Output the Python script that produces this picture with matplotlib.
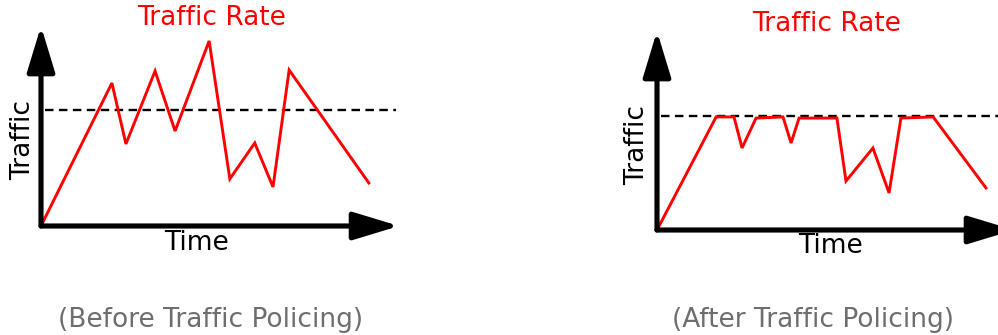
import matplotlib
matplotlib.use("Agg")
import matplotlib.pyplot as plt

# traffic rate samples (time 0-100, traffic 0-100)
before_time = [0, 20.2, 24.2, 32.5, 38.2, 47.9, 53.8, 60.9, 66.1, 70.7, 93.4]
before_rate = [0, 74.1, 42.5, 80.3, 49.2, 95.9, 24.4, 43.0, 20.2, 80.8, 22.3]
before_limit = 60.1

after_time = [0, 16.9, 22.0, 24.3, 28.3, 36.0, 38.3, 40.6, 51.4, 54.0, 61.7, 66.3, 69.7, 78.9, 94.0]
after_rate = [0, 58.9, 58.9, 42.7, 58.3, 58.9, 45.3, 58.3, 58.3, 25.5, 42.7, 19.3, 58.3, 58.9, 21.9]
after_limit = 59.4

captions = ["(Before Traffic Policing)", "(After Traffic Policing)"]

W, H = 998, 335
fig = plt.figure(figsize=(W / 100, H / 100), dpi=100)


def panel(box, t, v, limit, caption, title_xy, time_xy, traffic_xy, cap_xy):
    l, r, top, bot = box
    ax = fig.add_axes([l / W, (H - bot) / H, (r - l) / W, (bot - top) / H])
    ax.set_xlim(0, 100)
    ax.set_ylim(0, 100)
    ax.axis("off")

    # threshold
    ax.plot([1, 101], [limit, limit], color="black", lw=1.7, dashes=[3.6, 2.3],
            clip_on=False)
    # traffic rate
    ax.plot(t, v, color="#ff0000", lw=2.1, clip_on=False, solid_joinstyle="miter")

    # axes arrows (tips pushed out a bit, the arrow head gets shortened by its outline)
    style = "-|>,head_length=28,head_width=8.5"
    for tip in [(102, 0), (0, 103.6)]:
        ax.annotate("", xy=tip, xytext=(0, 0),
                    arrowprops=dict(arrowstyle=style, mutation_scale=1, lw=3.7,
                                    color="black", shrinkA=0, shrinkB=0),
                    annotation_clip=False)

    fs = 19
    fig.text(title_xy[0] / W, 1 - title_xy[1] / H, "Traffic Rate", color="#ff0000",
             fontsize=fs, ha="center", va="center")
    fig.text(time_xy[0] / W, 1 - time_xy[1] / H, "Time", color="black",
             fontsize=fs, ha="center", va="center")
    fig.text(traffic_xy[0] / W, 1 - traffic_xy[1] / H, "Traffic", color="black",
             fontsize=fs, ha="center", va="center", rotation=90)
    fig.text(cap_xy[0] / W, 1 - cap_xy[1] / H, caption, color="#6e6e6e",
             fontsize=fs, ha="center", va="center")


panel((41, 392, 33, 226), before_time, before_rate, before_limit, captions[0],
      (212, 18), (197, 243), (23, 140), (211, 320))
panel((657, 1007, 38, 230), after_time, after_rate, after_limit, captions[1],
      (827, 24), (830, 246), (637, 145), (813, 320))

fig.savefig("out.png", dpi=100)
